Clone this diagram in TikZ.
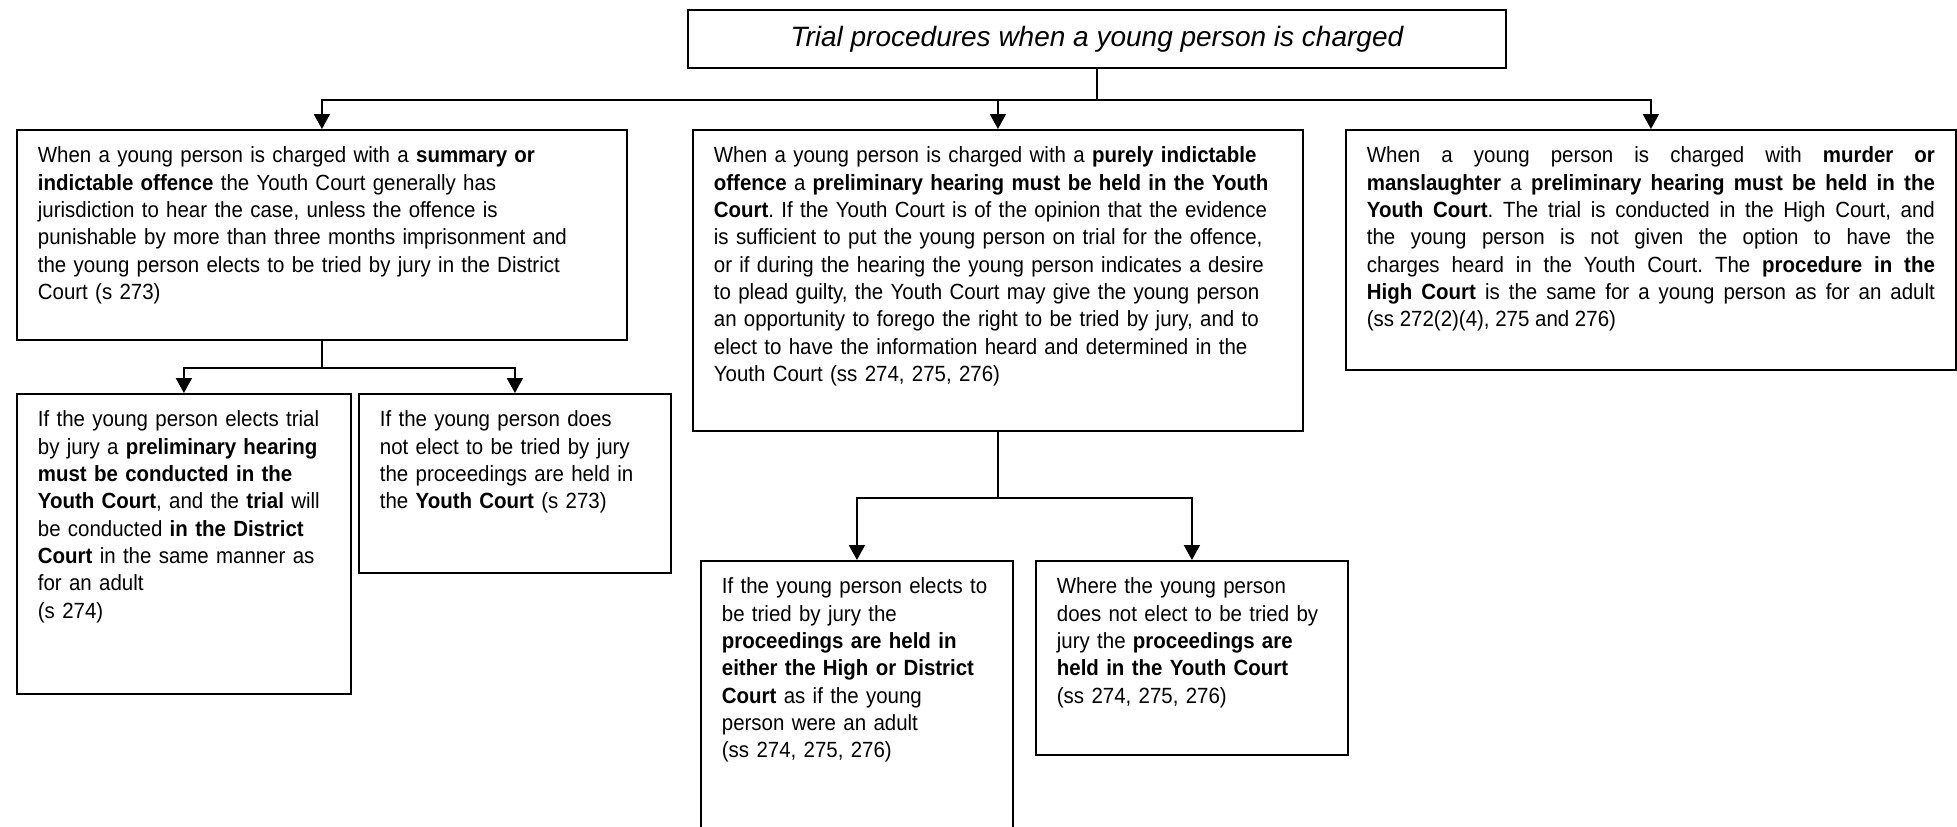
\documentclass[tikz,border=0pt]{standalone}
\usepackage{fontspec}
\setmainfont{Liberation Sans}[FakeStretch=0.93]
\newfontfamily\headfont{Liberation Sans}
\usetikzlibrary{arrows.meta}
\frenchspacing

\begin{document}
\begin{tikzpicture}[x=0.5pt, y=-0.5pt,
    box/.style 2 args={draw, line width=0.9pt, anchor=north west, align=left,
      inner xsep=10.5pt, inner ysep=0pt, text width=#1, text height=16.5pt,
      text depth=#2, font=\fontsize{11}{13.65}\selectfont},
    conn/.style={line width=0.9pt, -{Triangle[length=7.5pt,width=8pt]}},
    link/.style={line width=0.9pt}]
  \useasboundingbox (0,0) rectangle (1957,826);
  \clip (0,0) rectangle (1957,826);
  % heading
  \node[draw, line width=0.9pt, anchor=north west, minimum width=409pt, minimum height=29pt,
    inner sep=0pt, font=\headfont\fontsize{14}{16}\selectfont\itshape] (title) at (687,9)
    {Trial procedures when a young person is charged};
  % first row
  \node[box={284pt}{88.5pt}] (summ) at (16,129) {When a young person is charged with a \textbf{summary or}\\
    \textbf{indictable offence} the Youth Court generally has\\
    jurisdiction to hear the case, unless the offence is\\
    punishable by more than three months imprisonment and\\
    the young person elects to be tried by jury in the District\\
    Court (s 273)};
  \node[box={284pt}{134pt}] (ind) at (692,129) {When a young person is charged with a \textbf{purely indictable}\\
    \textbf{offence} a \textbf{preliminary hearing must be held in the Youth}\\
    \textbf{Court}. If the Youth Court is of the opinion that the evidence\\
    is sufficient to put the young person on trial for the offence,\\
    or if during the hearing the young person indicates a desire\\
    to plead guilty, the Youth Court may give the young person\\
    an opportunity to forego the right to be tried by jury, and to\\
    elect to have the information heard and determined in the\\
    Youth Court (ss 274, 275, 276)};
  \node[box={284pt}{103.5pt}, align=justify] (murder) at (1345,129) {When a young person is charged with \textbf{murder or}\linebreak
    \textbf{manslaughter} a \textbf{preliminary hearing must be held in the}\linebreak
    \textbf{Youth Court}. The trial is conducted in the High Court, and\linebreak
    the young person is not given the option to have the\linebreak
    charges heard in the Youth Court. The \textbf{procedure in the}\linebreak
    \textbf{High Court} is the same for a young person as for an adult\linebreak
    (ss 272(2)(4), 275 and 276)};
  % second row
  \node[box={146pt}{133.5pt}] (summ-jury) at (16,393) {If the young person elects trial\\
    by jury a \textbf{preliminary hearing}\\
    \textbf{must be conducted in the}\\
    \textbf{Youth Court}, and the \textbf{trial} will\\
    be conducted \textbf{in the District}\\
    \textbf{Court} in the same manner as\\
    for an adult\\
    (s 274)};
  \node[box={135pt}{73pt}] (summ-yc) at (358,393) {If the young person does\\
    not elect to be tried by jury\\
    the proceedings are held in\\
    the \textbf{Youth Court} (s 273)};
  \node[box={135pt}{128.5pt}] (ind-jury) at (700,560) {If the young person elects to\\
    be tried by jury the\\
    \textbf{proceedings are held in}\\
    \textbf{either the High or District}\\
    \textbf{Court} as if the young\\
    person were an adult\\
    (ss 274, 275, 276)};
  \node[box={135pt}{80.5pt}] (ind-yc) at (1035,560) {Where the young person\\
    does not elect to be tried by\\
    jury the \textbf{proceedings are}\\
    \textbf{held in the Youth Court}\\
    (ss 274, 275, 276)};
  % connectors
  \path (title.south) ++(0,31) coordinate (title-fork);
  \path (summ.south) ++(0,27) coordinate (summ-fork);
  \path (ind.south) ++(0,66) coordinate (ind-fork);
  \draw[link] (title.south) -- (title-fork);
  \draw[conn] (title-fork) -| (summ.north);
  \draw[conn] (title-fork) -| (ind.north);
  \draw[conn] (title-fork) -| (murder.north);
  \draw[link] (summ.south) -- (summ-fork);
  \draw[conn] (summ-fork) -| (summ-jury.north);
  \draw[conn] (summ-fork) -| (summ-yc.north);
  \draw[link] (ind.south) -- (ind-fork);
  \draw[conn] (ind-fork) -| (ind-jury.north);
  \draw[conn] (ind-fork) -| (ind-yc.north);
\end{tikzpicture}
\end{document}
